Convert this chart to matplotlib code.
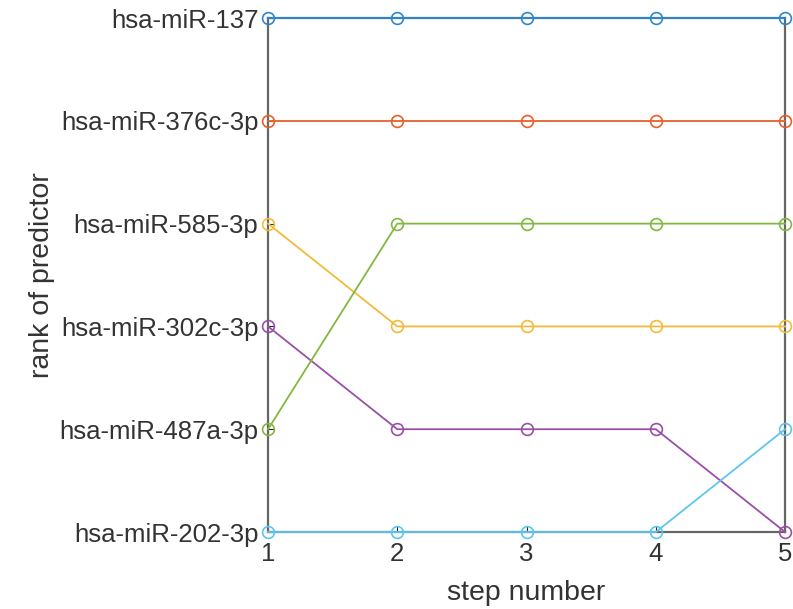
import matplotlib
matplotlib.use("Agg")
import matplotlib.pyplot as plt

steps = [1, 2, 3, 4, 5]
rank_labels = ["hsa-miR-202-3p", "hsa-miR-487a-3p", "hsa-miR-302c-3p",
               "hsa-miR-585-3p", "hsa-miR-376c-3p", "hsa-miR-137"]

serie_azul = [6, 6, 6, 6, 6]
serie_naranja = [5, 5, 5, 5, 5]
serie_amarilla = [4, 3, 3, 3, 3]
serie_morada = [3, 2, 2, 2, 1]
serie_verde = [2, 4, 4, 4, 4]
serie_celeste = [1, 1, 1, 1, 2]

series = [serie_azul, serie_naranja, serie_amarilla, serie_morada, serie_verde, serie_celeste]
colores = ["#2A88D2", "#E8602A", "#F2BC3A", "#9A4FA8", "#82B840", "#5CC6F0"]

plt.rcParams['font.family'] = ['Liberation Sans', 'DejaVu Sans']

fig = plt.figure(figsize=(7.93, 6.09), dpi=100)
ax = fig.add_axes([0.338, 0.1264, 0.652, 0.844])

for s, c in zip(series, colores):
    ax.plot(steps, s, color=c, lw=1.3, marker='o', ms=8.5, mfc='none', mew=1.2,
            clip_on=False, zorder=3)

ax.set_xlim(1, 5)
ax.set_ylim(1, 6)
ax.set_xticks(steps)
ax.set_yticks(range(1, 7))
ax.set_yticklabels(rank_labels)
ax.tick_params(direction='in', length=4, width=0.8, color='#262626',
               labelsize=18.5, labelcolor='#333333')
ax.tick_params(axis='y', pad=7)
ax.tick_params(axis='x', pad=7)
for sp in ax.spines.values():
    sp.set_color('#666666')
    sp.set_linewidth(1.6)
    sp.set_zorder(2)

ax.set_xlabel("step number", fontsize=20.5, color='#333333', labelpad=10)
ax.set_ylabel("rank of predictor", fontsize=20.5, color='#333333', labelpad=3)

fig.savefig("out.png", dpi=100)
